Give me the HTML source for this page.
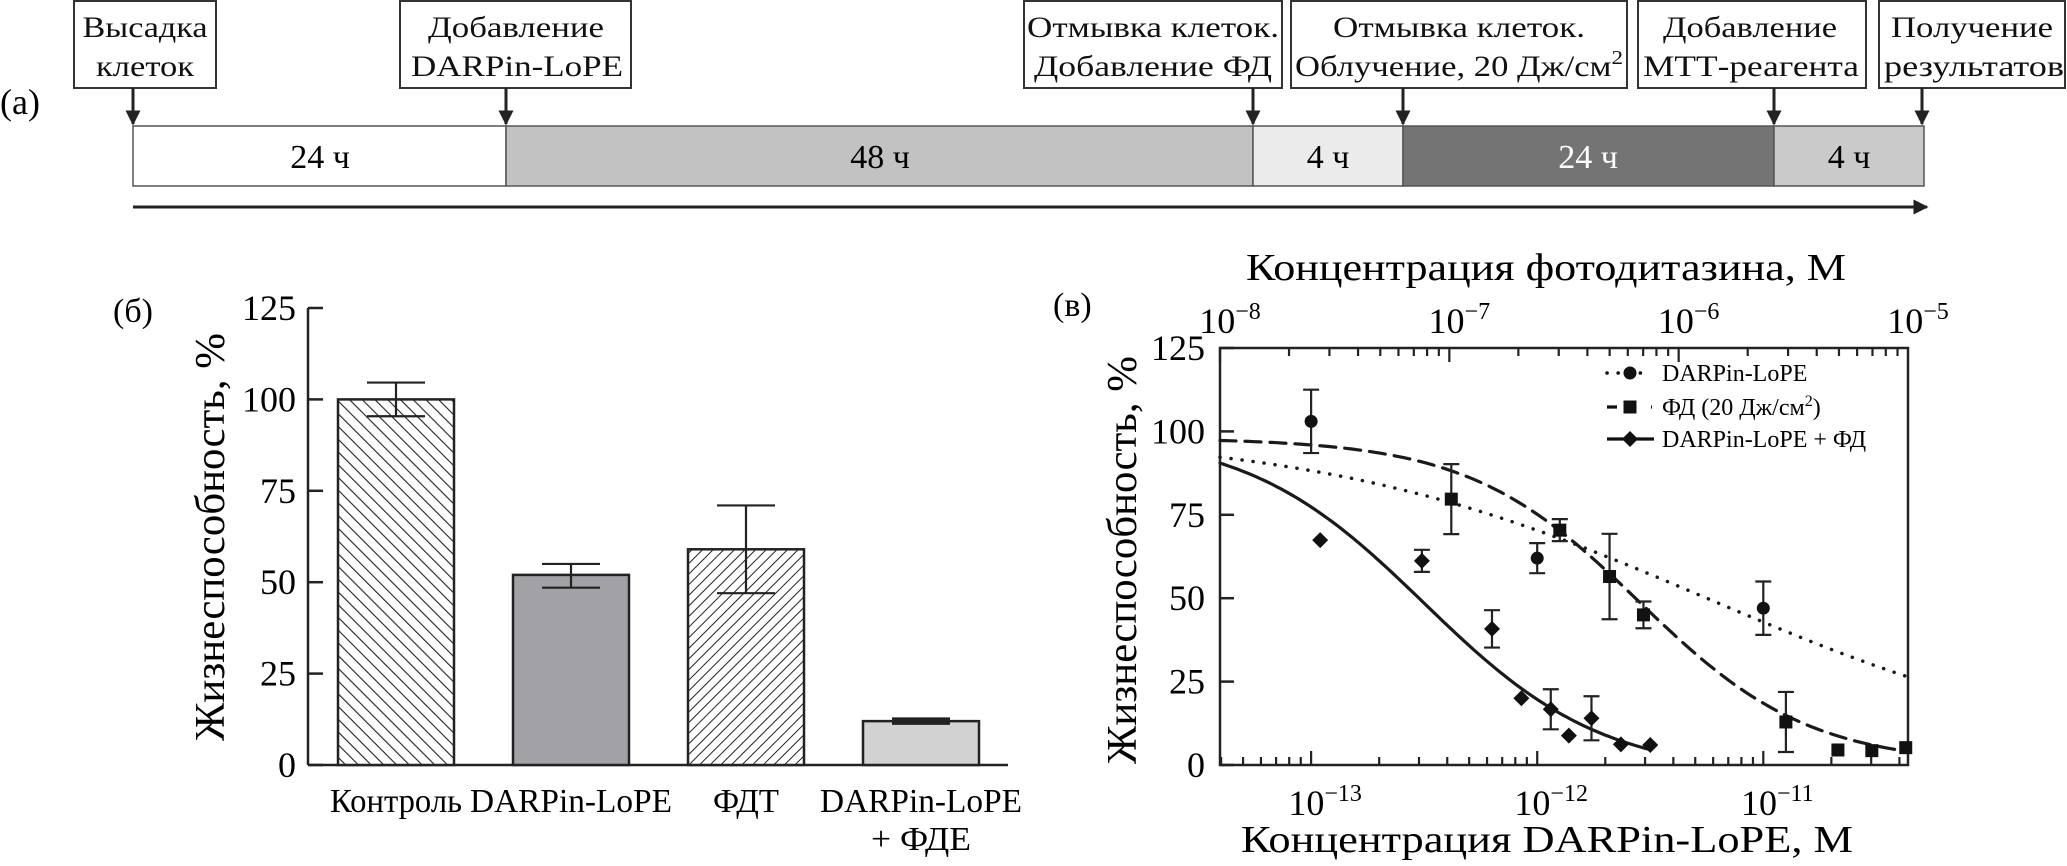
<!DOCTYPE html>
<html><head><meta charset="utf-8"><style>
html,body{margin:0;padding:0;background:#fff;}
svg{display:block;font-family:"Liberation Serif","DejaVu Serif",serif;}
</style></head><body>
<svg id="fig" xmlns="http://www.w3.org/2000/svg" width="2067" height="866" viewBox="0 0 2067 866">
<defs>
<pattern id="hatchBack" patternUnits="userSpaceOnUse" width="9" height="9" patternTransform="rotate(-45)"><rect width="9" height="9" fill="#fff"/><line x1="0" y1="0" x2="0" y2="9" stroke="#222" stroke-width="2.2"/></pattern>
<pattern id="hatchFwd" patternUnits="userSpaceOnUse" width="7.5" height="7.5" patternTransform="rotate(45)"><rect width="7.5" height="7.5" fill="#fff"/><line x1="0" y1="0" x2="0" y2="7.5" stroke="#222" stroke-width="2"/></pattern>
<marker id="ah" viewBox="0 0 10 10" refX="9" refY="5" markerWidth="5" markerHeight="5" orient="auto"><path d="M0,0 L10,5 L0,10 z" fill="#222"/></marker>
</defs>

<!-- Panel A: timeline -->
<g>
<text x="0" y="114" font-size="36">(а)</text>
<g stroke="#555" stroke-width="1.5">
<rect x="133" y="126" width="373" height="60" fill="#fff"/>
<rect x="506" y="126" width="747" height="60" fill="#c2c2c2"/>
<rect x="1253" y="126" width="150" height="60" fill="#ebebeb"/>
<rect x="1403" y="126" width="371" height="60" fill="#747474"/>
<rect x="1774" y="126" width="150" height="60" fill="#cacaca"/>
</g>
<g font-size="34" text-anchor="middle">
<text x="320" y="168">24 ч</text>
<text x="880" y="168">48 ч</text>
<text x="1328" y="168">4 ч</text>
<text x="1588" y="168" fill="#fff">24 ч</text>
<text x="1849" y="168">4 ч</text>
</g>
<line x1="133" y1="207" x2="1927" y2="207" stroke="#222" stroke-width="3" marker-end="url(#ah)"/>
<g fill="#fff" stroke="#333" stroke-width="2">
<rect x="74" y="1" width="142" height="87"/>
<rect x="400" y="1" width="231" height="87"/>
<rect x="1024" y="1" width="258" height="87"/>
<rect x="1291" y="1" width="336" height="87"/>
<rect x="1638" y="1" width="228" height="87"/>
<rect x="1879" y="1" width="186" height="87"/>
</g>
<g stroke="#222" stroke-width="3">
<line x1="133" y1="88" x2="133" y2="124" marker-end="url(#ah)"/>
<line x1="506" y1="88" x2="506" y2="124" marker-end="url(#ah)"/>
<line x1="1253" y1="88" x2="1253" y2="124" marker-end="url(#ah)"/>
<line x1="1403" y1="88" x2="1403" y2="124" marker-end="url(#ah)"/>
<line x1="1774" y1="88" x2="1774" y2="124" marker-end="url(#ah)"/>
<line x1="1922" y1="88" x2="1922" y2="124" marker-end="url(#ah)"/>
</g>
<g font-size="30" text-anchor="middle" fill="#111">
<text x="145" y="37" textLength="125" lengthAdjust="spacingAndGlyphs">Высадка</text>
<text x="145" y="76" textLength="98" lengthAdjust="spacingAndGlyphs">клеток</text>
<text x="516" y="37" textLength="176" lengthAdjust="spacingAndGlyphs">Добавление</text>
<text x="517" y="76" textLength="212" lengthAdjust="spacingAndGlyphs">DARPin-LoPE</text>
<text x="1153" y="37" textLength="252" lengthAdjust="spacingAndGlyphs">Отмывка клеток.</text>
<text x="1153" y="76" textLength="238" lengthAdjust="spacingAndGlyphs">Добавление ФД</text>
<text x="1459" y="37" textLength="252" lengthAdjust="spacingAndGlyphs">Отмывка клеток.</text>
<text x="1459" y="76" textLength="328" lengthAdjust="spacingAndGlyphs">Облучение, 20 Дж/см<tspan font-size="20" dy="-12">2</tspan></text>
<text x="1750" y="37" textLength="174" lengthAdjust="spacingAndGlyphs">Добавление</text>
<text x="1751" y="76" textLength="216" lengthAdjust="spacingAndGlyphs">МТТ-реагента</text>
<text x="1972" y="37" textLength="162" lengthAdjust="spacingAndGlyphs">Получение</text>
<text x="1974" y="76" textLength="180" lengthAdjust="spacingAndGlyphs">результатов</text>
</g>
</g>

<g id="panelB"></g>
<g id="panelC"></g>
</svg>

<script>
// ---------- Panel B data ----------
var barCategories = ["Контроль", "DARPin-LoPE", "ФДТ", "DARPin-LoPE"];
var barValues = [100, 52, 59, 12];
var barErrUpper = [104.6, 55, 71, 12.6];
var barErrLower = [95.4, 48.5, 47, 11.4];
var barTicks = [0, 25, 50, 75, 100, 125];

// ---------- Panel C data (log10 concentration of DARPin-LoPE, M) ----------
var darpinLogC = [-13, -12, -11];
var darpinVals = [103, 62, 47];
var darpinErr = [9.5, 4.5, 8];
var pdLogC = [-12.38, -11.90, -11.68, -11.53, -10.90, -10.67, -10.52, -10.37];
var pdVals = [79.7, 70.4, 56.5, 45, 12.9, 4.5, 4.3, 5.2];
var pdErr = [10.5, 3.3, 12.8, 4, 9, 0, 0, 0];
var comboLogC = [-12.96, -12.51, -12.20, -12.07, -11.94, -11.86, -11.76, -11.63, -11.50];
var comboVals = [67.4, 61.2, 40.8, 20, 16.7, 8.8, 14, 6.2, 6];
var comboErr = [0, 3.3, 5.6, 0, 6, 0, 6.6, 0, 0];
// fitted logistic params: [top, bottom, logIC50, hill]
var darpinFit = [100, 0, -11.25, 0.5];
var pdFit = [98, 0, -11.55, 1.15];
var comboFit = [100, -3, -12.5, 1.1];
var yTicksC = [0, 25, 50, 75, 100, 125];
var bottomDecades = [-13, -12, -11];
var topDecades = [-8, -7, -6, -5];

var NS = "http://www.w3.org/2000/svg";
function mk(parent, tag, attrs, text) {
  var el = document.createElementNS(NS, tag);
  for (var k in attrs) el.setAttribute(k, attrs[k]);
  if (text !== undefined) el.textContent = text;
  parent.appendChild(el);
  return el;
}

// ---------- Panel B ----------
(function () {
  var g = document.getElementById("panelB");
  var x0 = 308, x1 = 1008, yBase = 765, yTop = 308;
  function yB(v) { return yBase - (v / 125) * (yBase - yTop); }
  var el;
  el = mk(g, "text", { x: 113, y: 322, "font-size": 34 }, "(б)");
  
  
  el = mk(g, "text", { transform: "translate(224,537) rotate(-90)", "text-anchor": "middle", "font-size": 42, textLength: 408, lengthAdjust: "spacingAndGlyphs" }, "Жизнеспособность, %");
  
  
  el = mk(g, "line", { x1: x0, y1: yTop, x2: x0, y2: yBase, stroke: "#222", "stroke-width": 2.5 });
  
  
  el = mk(g, "line", { x1: x0, y1: yBase, x2: x1, y2: yBase, stroke: "#222", "stroke-width": 2.5 });
  
  
  barTicks.forEach(function (t) {
    var tk = mk(g, "line", { x1: x0, y1: yB(t), x2: x0 + 15, y2: yB(t), stroke: "#222", "stroke-width": 2.5 });
    
    
    var lb = mk(g, "text", { x: 296, y: yB(t) + 12, "text-anchor": "end", "font-size": 36 }, String(t));
    
    
  });
  var fills = ["url(#hatchBack)", "#a2a2a6", "url(#hatchFwd)", "#d2d2d2"];
  var labelWidths = [132, 202, 66, 202];
  barCategories.forEach(function (c, i) {
    var bx = 338 + i * 175, bw = 116, cx = bx + bw / 2;
    var r = mk(g, "rect", { x: bx, y: yB(barValues[i]), width: bw, height: yBase - yB(barValues[i]), fill: fills[i], stroke: "#222", "stroke-width": 2.5 });
    
    
    var e = mk(g, "path", { d: "M" + cx + "," + yB(barErrUpper[i]) + "V" + yB(barErrLower[i]) + "M" + (cx - 29) + "," + yB(barErrUpper[i]) + "h58M" + (cx - 29) + "," + yB(barErrLower[i]) + "h58", stroke: "#222", "stroke-width": i === 3 ? 3 : 2.2, fill: "none" });
    
    
    var t = mk(g, "text", { x: cx, y: 812, "text-anchor": "middle", "font-size": 34, textLength: labelWidths[i], lengthAdjust: "spacingAndGlyphs" }, c);
    
    
  });
  el = mk(g, "text", { x: 338 + 3 * 175 + 58, y: 850, "text-anchor": "middle", "font-size": 34, textLength: 100, lengthAdjust: "spacingAndGlyphs" }, "+ ФДЕ");
  
  
})();

// ---------- Panel C ----------
(function () {
  var g = document.getElementById("panelC");
  var L = 1220, R = 1908, T = 348, B = 765;
  var lgMin = -13.403, lgMax = -10.36;
  function xC(lg) { return L + (lg - lgMin) / (lgMax - lgMin) * (R - L); }
  function xTop(lg) { return L + (lg + 8) / 3 * (R - L); }
  function yC(v) { return B - v / 125 * (B - T); }
  function fit(p, lg) { return p[1] + (p[0] - p[1]) / (1 + Math.pow(10, (lg - p[2]) * p[3])); }
  var el;
  el = mk(g, "text", { x: 1053, y: 316, "font-size": 34 }, "(в)");
  
  
  el = mk(g, "text", { x: 1546, y: 280, "text-anchor": "middle", "font-size": 38, textLength: 600, lengthAdjust: "spacingAndGlyphs" }, "Концентрация фотодитазина, М");
  
  
  el = mk(g, "text", { x: 1547, y: 852, "text-anchor": "middle", "font-size": 38, textLength: 612, lengthAdjust: "spacingAndGlyphs" }, "Концентрация DARPin-LoPE, М");
  
  
  el = mk(g, "text", { transform: "translate(1136,560) rotate(-90)", "text-anchor": "middle", "font-size": 42, textLength: 408, lengthAdjust: "spacingAndGlyphs" }, "Жизнеспособность, %");
  
  
  el = mk(g, "rect", { x: L, y: T, width: R - L, height: B - T, fill: "none", stroke: "#222", "stroke-width": 2.5 });
  
  

  yTicksC.forEach(function (t) {
    var tk = mk(g, "line", { x1: L, y1: yC(t), x2: L + 14, y2: yC(t), stroke: "#222", "stroke-width": 2.5 });
    
    
    var lb = mk(g, "text", { x: 1205, y: yC(t) + 12, "text-anchor": "end", "font-size": 36 }, String(t));
    
    
  });
  for (var d = -14; d <= -11; d++) {
    for (var m = 1; m <= 9; m++) {
      var lg = d + Math.log10(m);
      if (lg < lgMin || lg > lgMax) continue;
      var len = m === 1 ? 14 : 8;
      var tk = mk(g, "line", { x1: xC(lg), y1: B, x2: xC(lg), y2: B - len, stroke: "#222", "stroke-width": 2.2 });
      
      
    }
  }
  for (var d2 = -8; d2 <= -6; d2++) {
    for (var m2 = 1; m2 <= 9; m2++) {
      var lg2 = d2 + Math.log10(m2);
      var len2 = m2 === 1 ? 14 : 8;
      var tk2 = mk(g, "line", { x1: xTop(lg2), y1: T, x2: xTop(lg2), y2: T + len2, stroke: "#222", "stroke-width": 2.2 });
      
      
    }
  }
  bottomDecades.forEach(function (dd) {
    var t = mk(g, "text", { x: xC(dd) + 14, y: 815, "text-anchor": "middle", "font-size": 36 });
    
    
    mk(t, "tspan", {}, "10");
    mk(t, "tspan", { "font-size": 24, dy: -14 }, "−" + (-dd));
  });
  topDecades.forEach(function (dd) {
    var t = mk(g, "text", { x: xTop(dd) + 10, y: 333, "text-anchor": "middle", "font-size": 36 });
    
    
    mk(t, "tspan", {}, "10");
    mk(t, "tspan", { "font-size": 24, dy: -14 }, "−" + (-dd));
  });

  function curve(p, lgEnd, dash, name) {
    var pts = [];
    for (var i = 0; i <= 120; i++) {
      var lg = lgMin + (lgEnd - lgMin) * i / 120;
      pts.push(xC(lg).toFixed(1) + "," + yC(fit(p, lg)).toFixed(1));
    }
    var c = mk(g, "polyline", { points: pts.join(" "), fill: "none", stroke: "#1a1a1a", "stroke-width": dash === "dot" ? 3.5 : 3.2, "stroke-dasharray": dash === "dot" ? "0.1 11" : (dash === "dash" ? "16 9" : "none"), "stroke-linecap": "round" });
    
    
  }
  curve(darpinFit, lgMax, "dot", "fit-curve-darpin");
  curve(pdFit, lgMax, "dash", "fit-curve-pd");
  curve(comboFit, -11.51, "solid", "fit-curve-combo");

  function errBars(lgs, vals, errs) {
    lgs.forEach(function (lg, i) {
      if (!errs[i]) return;
      var x = xC(lg), yu = yC(vals[i] + errs[i]), yl = yC(vals[i] - errs[i]);
      var e = mk(g, "path", { d: "M" + x + "," + yu + "V" + yl + "M" + (x - 8) + "," + yu + "h16M" + (x - 8) + "," + yl + "h16", stroke: "#222", "stroke-width": 2.2, fill: "none" });
      
      
    });
  }
  errBars(darpinLogC, darpinVals, darpinErr);
  errBars(pdLogC, pdVals, pdErr);
  errBars(comboLogC, comboVals, comboErr);

  darpinLogC.forEach(function (lg, i) {
    var c = mk(g, "circle", { cx: xC(lg), cy: yC(darpinVals[i]), r: 6.5, fill: "#111" });
    
    
  });
  pdLogC.forEach(function (lg, i) {
    var s = mk(g, "rect", { x: xC(lg) - 6.5, y: yC(pdVals[i]) - 6.5, width: 13, height: 13, fill: "#111" });
    
    
  });
  comboLogC.forEach(function (lg, i) {
    var x = xC(lg), y = yC(comboVals[i]);
    var p = mk(g, "path", { d: "M" + (x - 8) + "," + y + "L" + x + "," + (y - 8) + "L" + (x + 8) + "," + y + "L" + x + "," + (y + 8) + "z", fill: "#111" });
    
    
  });

  var lg0 = mk(g, "g", {});
  
  
  var rows = [373, 407, 439];
  var e1 = mk(lg0, "line", { x1: 1607, y1: rows[0], x2: 1650, y2: rows[0], stroke: "#111", "stroke-width": 3.5, "stroke-dasharray": "0.1 11", "stroke-linecap": "round" });
  
  
  var m1 = mk(lg0, "circle", { cx: 1630, cy: rows[0], r: 6.5, fill: "#111" });
  
  
  var e2 = mk(lg0, "line", { x1: 1607, y1: rows[1], x2: 1652, y2: rows[1], stroke: "#111", "stroke-width": 3.2, "stroke-dasharray": "10 34 2 0" });
  
  
  var m2 = mk(lg0, "rect", { x: 1623.5, y: rows[1] - 6.5, width: 13, height: 13, fill: "#111" });
  
  
  var e3 = mk(lg0, "line", { x1: 1607, y1: rows[2], x2: 1654, y2: rows[2], stroke: "#111", "stroke-width": 3.2 });
  
  
  var m3 = mk(lg0, "path", { d: "M1622," + rows[2] + "l8,-8l8,8l-8,8z", fill: "#111" });
  
  
  var t1 = mk(lg0, "text", { x: 1662, y: rows[0] + 8, "font-size": 24 }, "DARPin-LoPE");
  
  
  var t2 = mk(lg0, "text", { x: 1662, y: rows[1] + 8, "font-size": 24 });
  
  
  mk(t2, "tspan", {}, "ФД (20 Дж/см");
  mk(t2, "tspan", { "font-size": 16, dy: -9 }, "2");
  mk(t2, "tspan", { dy: 9 }, ")");
  var t3 = mk(lg0, "text", { x: 1662, y: rows[2] + 8, "font-size": 24 }, "DARPin-LoPE + ФД");
  
  
})();
</script>
</body></html>
